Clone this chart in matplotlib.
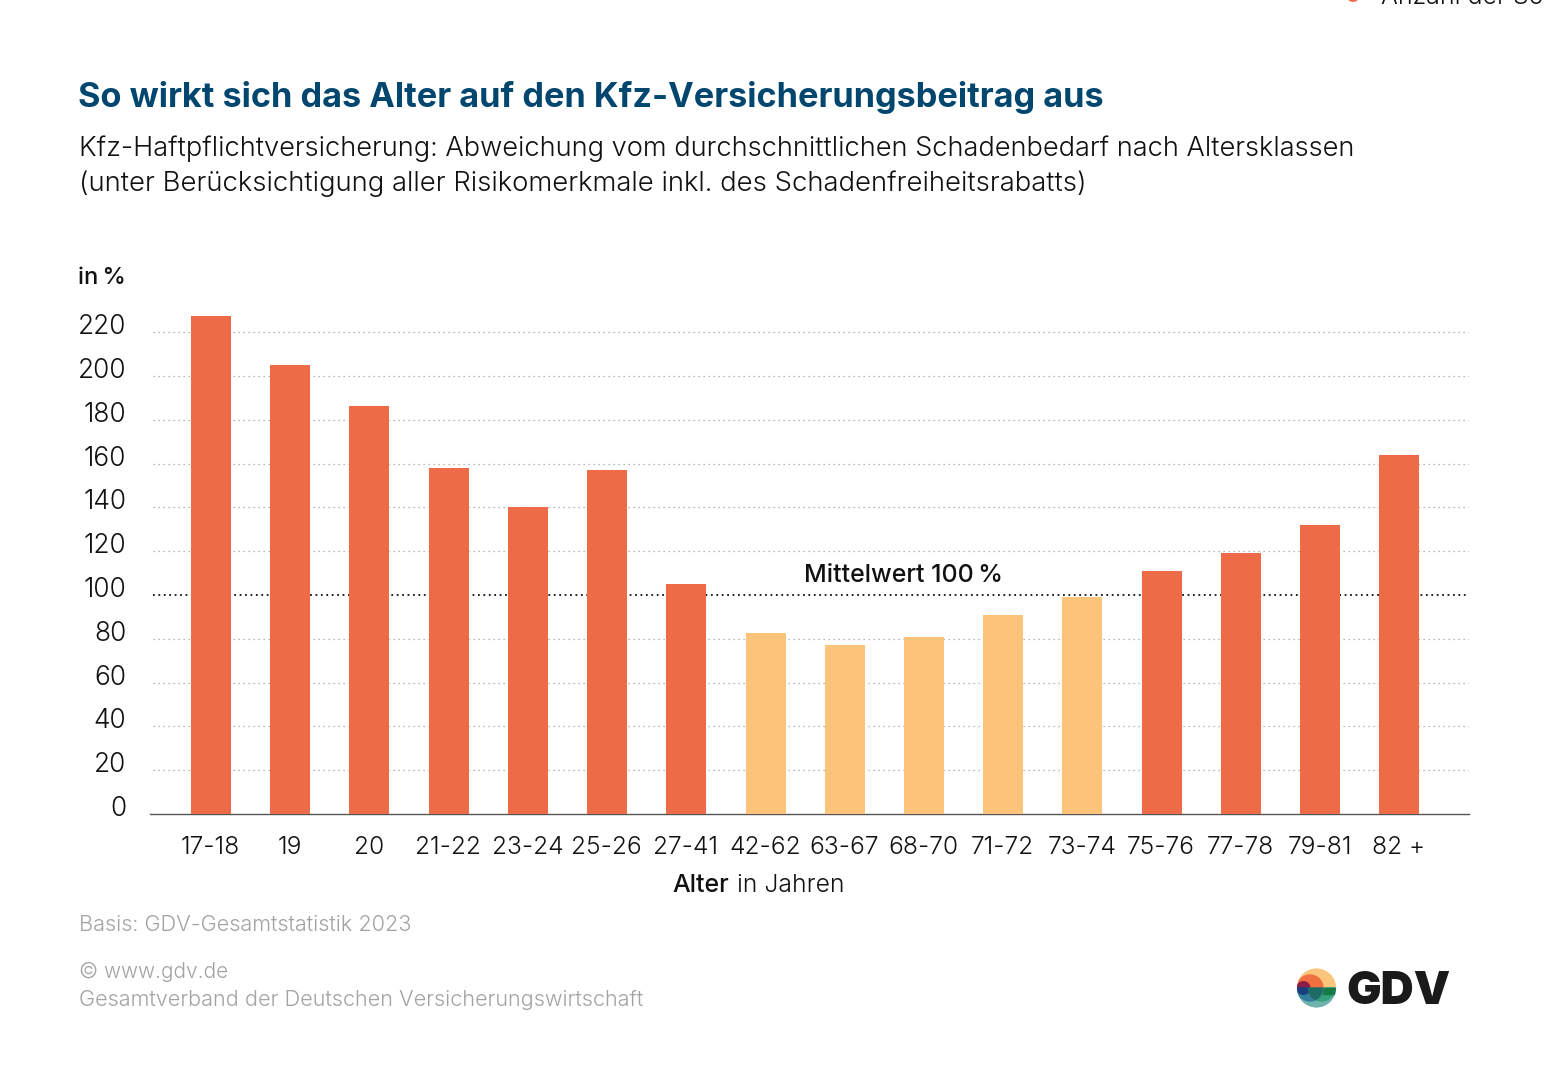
import matplotlib
matplotlib.use("Agg")
import matplotlib.pyplot as plt
from matplotlib.patches import Circle, Rectangle, Wedge
from matplotlib.transforms import ScaledTranslation

W, H = 1545, 1085

age_groups = ["17-18", "19", "20", "21-22", "23-24", "25-26", "27-41", "42-62",
              "63-67", "68-70", "71-72", "73-74", "75-76", "77-78", "79-81", "82 +"]
values = [227.5, 205, 186.3, 158, 140, 157, 105, 82.7, 77, 81, 91, 99, 111, 119, 132, 164]
y_ticks = [0, 20, 40, 60, 80, 100, 120, 140, 160, 180, 200, 220]
mean_value = 100

ORANGE = "#ee6b47"
LIGHT = "#fbc47a"
GREY = "#a3a3a3"
BLUE = "#00466e"
INK = "#111111"

plt.rcParams["font.family"] = ["Inter", "DejaVu Sans"]

fig = plt.figure(figsize=(W / 100, H / 100), dpi=100)


def fx(px):
    return px / W


def fy(py):
    return 1 - py / H


def label(px, py, s, size, **kw):
    kw.setdefault("color", INK)
    kw.setdefault("va", "center")
    return fig.text(fx(px), fy(py), s, fontsize=size, **kw)


# main chart
ax = fig.add_axes([fx(150), fy(814), fx(1469 - 150), (814 - 290) / H])
ax.set_xlim(-0.77, 15.88)
ax.set_ylim(0, 524 / 2.19)

colors = [ORANGE if v > mean_value else LIGHT for v in values]
ax.bar(range(len(values)), values, width=0.505, color=colors, zorder=3)

for t in y_ticks[1:]:
    if t == mean_value:
        ax.axhline(t, xmin=0.002, color=INK, lw=1.3, ls=(0, (1, 2)), zorder=2)
    else:
        ax.axhline(t, xmin=0.002, color="#a0a0a0", lw=0.9, ls=(0, (1, 3)), zorder=2)

for s in ["top", "left", "right"]:
    ax.spines[s].set_visible(False)
ax.spines["bottom"].set_color("#555555")
ax.spines["bottom"].set_linewidth(1)
ax.set_yticks(y_ticks)
ax.set_yticklabels(y_ticks, fontsize=19, color=INK, fontweight=300)
ax.set_xticks(range(len(age_groups)))
ax.set_xticklabels(age_groups, fontsize=17.7, color=INK, fontweight=300)
ax.tick_params(axis="both", length=0)
ax.tick_params(axis="y", pad=17)
ax.tick_params(axis="x", pad=16)
# tick labels sit a bit above the grid lines in the original
for tl in ax.get_yticklabels():
    tl.set_transform(tl.get_transform() + ScaledTranslation(0, 8 / 100, fig.dpi_scale_trans))
for tl in ax.get_xticklabels():
    tl.set_transform(tl.get_transform() + ScaledTranslation(-0.5 / 100, 0, fig.dpi_scale_trans))
ax.text(8.74, 100 + 8.7, "Mittelwert 100\u2009%", fontsize=18, fontweight=500,
        ha="center", va="center", color=INK)

# headings
label(78, 97, "So wirkt sich das Alter auf den Kfz-Versicherungsbeitrag aus", 24.7,
      color=BLUE, fontweight="bold")
label(79, 149, "Kfz-Haftpflichtversicherung: Abweichung vom durchschnittlichen Schadenbedarf nach Altersklassen",
      19.6, fontweight=300)
label(79, 184, "(unter Berücksichtigung aller Risikomerkmale inkl. des Schadenfreiheitsrabatts)",
      19.8, fontweight=300)
label(78, 278, "in\u2009%", 17, fontweight=500)
label(1381, -3, "Anzahl der So", 18, fontweight=300)
fig.add_artist(Circle((fx(1353), fy(-2)), 0.003, color=ORANGE, transform=fig.transFigure))

# x axis title
label(672, 886, "Alter", 18, fontweight=500)
label(737, 886, "in Jahren", 17.8, fontweight=300)

# footer
label(79, 925, "Basis: GDV-Gesamtstatistik 2023", 15.6, color=GREY, fontweight=300)
label(79, 972, "© www.gdv.de", 15, color=GREY, fontweight=300)
label(79, 1000, "Gesamtverband der Deutschen Versicherungswirtschaft", 15.6, color=GREY, fontweight=300)

# logo
lg = fig.add_axes([fx(1296.5), fy(1008), 40 / W, 40 / H])
lg.set_xlim(-20, 20)
lg.set_ylim(-20, 20)
lg.axis("off")
clip = Circle((0, 0), 19.5, transform=lg.transData)
shapes = [
    Wedge((0, 0), 19.5, 0, 180, color="#fcc57b"),
    Wedge((0, 0), 19.5, 180, 360, color="#6fb3ae"),
    Wedge((5, 0), 13, 180, 360, color="#35a07a"),
    Rectangle((6, -6), 14, 6, color="#157a45"),
    Wedge((-6.5, 0), 13, 180, 360, color="#327f9b"),
    Wedge((-6.5, 0), 13, 0, 180, color="#f2703f"),
    Wedge((-13, 0), 6.3, 0, 180, color="#8a1c47"),
    Wedge((-13, 0), 6.3, 180, 360, color="#173f7c"),
]
for s in shapes:
    lg.add_patch(s)
    s.set_clip_path(clip)
# overlap of the two lower half circles
lens = Wedge((5, 0), 13, 180, 360, color="#1e6b66")
lg.add_patch(lens)
lens.set_clip_path(Circle((-6.5, 0), 13, transform=lg.transData))

label(1346, 992, "GDV", 33, fontweight=900, color="#1a1a1a")

fig.savefig("out.png", dpi=100)
